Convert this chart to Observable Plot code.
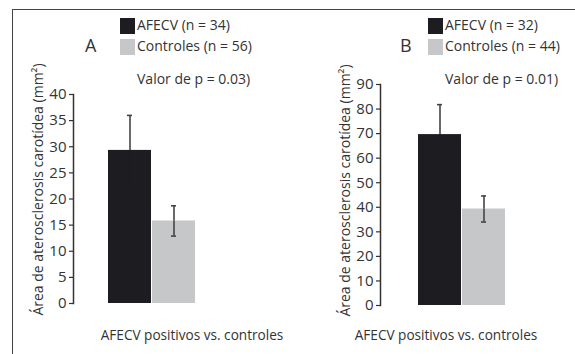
<!DOCTYPE html>
<html><head><meta charset="utf-8">
<script src="https://cdn.jsdelivr.net/npm/d3@7"></script>
<script src="https://cdn.jsdelivr.net/npm/@observablehq/plot@0.6"></script>
<style>
html,body{margin:0;padding:0;background:#fff;}
#wrap{position:relative;width:575px;height:354px;overflow:hidden;font-family:"Open Sans",sans-serif;color:#333;}
#frame{position:absolute;left:12px;top:9px;right:-5px;bottom:-5px;border-left:1.5px solid #444;border-top:1.5px solid #444;}
.panel{position:absolute;top:0;}
.lg{position:absolute;font-size:14px;white-space:nowrap;line-height:16px;}
.sw{position:absolute;width:15px;height:16px;}
.letter{position:absolute;font-size:18px;line-height:20px;}
</style></head><body>
<div id="wrap"><div id="frame"></div></div>
<script>
// Data
const groups = ["AFECV", "Controles"];
const colors = ["#1d1c21", "#c6c7c9"];
const lowerWhiskerColors = ["#1d1c21", "#444"];
const panelA_means = [29.3, 15.8];
const panelA_err = [6.7, 2.9];
const panelA_n = [34, 56];
const panelA_p = "0.03";
const panelA_ticks = [0, 5, 10, 15, 20, 25, 30, 35, 40];
const panelB_means = [69.6, 39.3];
const panelB_err = [12.2, 5.3];
const panelB_n = [32, 44];
const panelB_p = "0.01";
const panelB_ticks = [0, 10, 20, 30, 40, 50, 60, 70, 80, 90];
const yLabel = "Área de aterosclerosis carotídea (mm²)";
const xLabel = "AFECV positivos vs. controles";

const wrap = document.getElementById("wrap");

function panel(cfg) {
  const data = groups.map((g, i) => ({group: g, mean: cfg.means[i], lo: cfg.means[i] - cfg.err[i], hi: cfg.means[i] + cfg.err[i], low: lowerWhiskerColors[i]}));
  const chart = Plot.plot({
    width: cfg.width,
    height: 354,
    marginLeft: cfg.marginLeft,
    marginRight: 0,
    marginTop: cfg.marginTop,
    marginBottom: cfg.marginBottom,
    style: {fontFamily: "Open Sans", fontSize: "15px", color: "#333", background: "transparent", overflow: "visible"},
    x: {domain: groups, range: cfg.barRange, paddingInner: 0.012, paddingOuter: 0, axis: null},
    y: {domain: [0, cfg.ticks[cfg.ticks.length - 1]]},
    color: {domain: groups, range: colors},
    marks: [
      Plot.frame({anchor: "left", stroke: "#333", strokeWidth: 1.5}),
      Plot.axisY({ticks: cfg.ticks, tickSize: 4, tickPadding: 3, stroke: "#333", strokeWidth: 1.2, fontSize: 15, label: null}),
      Plot.text([yLabel], {frameAnchor: "left", rotate: -90, textAnchor: "middle", lineAnchor: "middle",
        dx: -35, dy: cfg.labelDy, fontSize: 14, fill: "#333"}),
      Plot.barY(data, {x: "group", y: "mean", fill: "group"}),
      Plot.ruleX(data, {x: "group", y1: "mean", y2: "hi", stroke: "#444", strokeWidth: 1.6}),
      Plot.ruleX(data, {x: "group", y1: "lo", y2: "mean", stroke: "low", strokeWidth: 1.6}),
      Plot.tickY(data, {x: "group", y: "hi", stroke: "#444", strokeWidth: 1.6, insetLeft: cfg.capInset, insetRight: cfg.capInset}),
      Plot.tickY(data, {x: "group", y: "lo", stroke: "low", strokeWidth: 1.6, insetLeft: cfg.capInset, insetRight: cfg.capInset})
    ]
  });
  const div = document.createElement("div");
  div.className = "panel";
  div.style.left = cfg.left + "px";
  div.appendChild(chart);
  wrap.appendChild(div);

  const add = (cls, text, x, y, extra) => {
    const d = document.createElement("div");
    d.className = cls;
    d.textContent = text;
    d.style.left = x + "px";
    d.style.top = y + "px";
    if (extra) Object.assign(d.style, extra);
    wrap.appendChild(d);
  };
  add("sw", "", cfg.lgX, 18, {background: colors[0]});
  add("sw", "", cfg.lgX, 39, {background: colors[1]});
  add("lg", `AFECV (n = ${cfg.n[0]})`, cfg.lgX + 17, 17);
  add("lg", `Controles (n = ${cfg.n[1]})`, cfg.lgX + 17, 38);
  add("lg", `Valor de p = ${cfg.p})`, cfg.lgX + 17, 71);
  add("letter", cfg.letter, cfg.letterX, 35);
  add("lg", xLabel, cfg.xLabelX, 327, {fontSize: "13.6px", transform: "translateX(-50%)"});
}

panel({left: 0, width: 287, marginLeft: 73, marginTop: 94, marginBottom: 51, barRange: [107, 196],
  means: panelA_means, err: panelA_err, ticks: panelA_ticks, n: panelA_n, p: panelA_p,
  labelDy: -9.5, capInset: 19, lgX: 120, letter: "A", letterX: 85, xLabelX: 192});
panel({left: 287, width: 288, marginLeft: 93, marginTop: 84, marginBottom: 49, barRange: [130, 219],
  means: panelB_means, err: panelB_err, ticks: panelB_ticks, n: panelB_n, p: panelB_p,
  labelDy: -4.5, capInset: 19, lgX: 428, letter: "B", letterX: 400, xLabelX: 446});
</script>
</body></html>
